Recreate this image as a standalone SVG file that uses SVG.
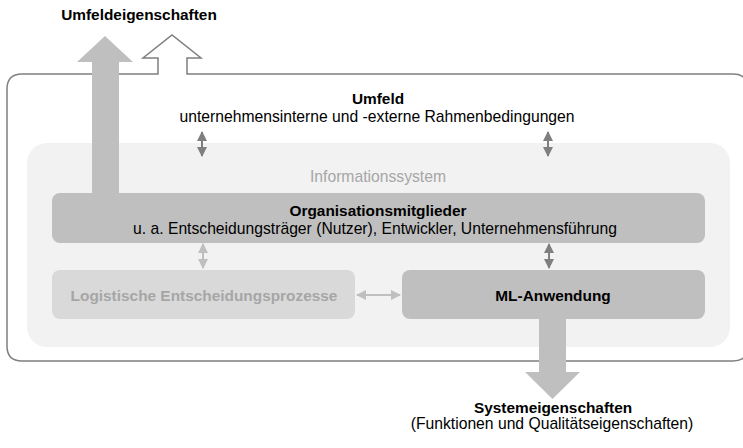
<svg xmlns="http://www.w3.org/2000/svg" width="743" height="448" viewBox="0 0 743 448">
<style>
text{font-family:"Liberation Sans",Arial,sans-serif;font-size:15.7px;text-anchor:middle;fill:#000}
.b{font-weight:bold;font-size:15.4px}
.g{fill:#a6a6a6}
.box{fill:#bfbfbf}
.dk{stroke:#7f7f7f;stroke-width:2;fill:none}
.lt{stroke:#bfbfbf;stroke-width:2;fill:none}
</style>
<defs>
<marker id="hd" viewBox="0 0 10 10" refX="9" refY="5" markerWidth="5" markerHeight="5" orient="auto-start-reverse"><path d="M0,0 L10,5 L0,10 z" fill="#7f7f7f"/></marker>
<marker id="hl" viewBox="0 0 10 10" refX="9" refY="5" markerWidth="5" markerHeight="5" orient="auto-start-reverse"><path d="M0,0 L10,5 L0,10 z" fill="#bfbfbf"/></marker>
</defs>
<g id="umfeld">
<path d="M187,74 L187,58 L201,58 L172,35 L143,58 L158,58 L158,74 L22,74 Q7,74 7,89 L7,346 Q7,361 22,361 L733,361 Q748,361 748,346 L748,89 Q748,74 733,74 Z" fill="#fff" stroke="#7f7f7f" stroke-width="1.5"/>
<text class="b" x="378" y="104">Umfeld</text>
<text x="377" y="122">unternehmensinterne und -externe Rahmenbedingungen</text>
</g>
<g id="informationssystem">
<rect x="27" y="143" width="703" height="204" rx="20" fill="#f2f2f2"/>
<text class="g" x="378" y="182">Informationssystem</text>
</g>
<g id="arrow-umfeldeigenschaften">
<path d="M92,200 L92,62 L77,62 L105,36 L133,62 L119,62 L119,200 Z" fill="#bfbfbf"/>
<text class="b" x="139" y="20">Umfeldeigenschaften</text>
</g>
<g id="organisationsmitglieder">
<rect class="box" x="52" y="193" width="653" height="50" rx="8"/>
<text class="b" x="378" y="216">Organisationsmitglieder</text>
<text x="375" y="234">u. a. Entscheidungsträger (Nutzer), Entwickler, Unternehmensführung</text>
</g>
<g id="logistik">
<rect x="52" y="270" width="303" height="49" rx="8" fill="#d9d9d9"/>
<text class="b g" x="204" y="301">Logistische Entscheidungsprozesse</text>
</g>
<g id="arrow-systemeigenschaften">
<path d="M539,310 L539,372 L525,372 L552.5,399 L580,372 L566,372 L566,310 Z" fill="#bfbfbf"/>
<text class="b" x="553" y="413">Systemeigenschaften</text>
<text x="552" y="429">(Funktionen und Qualitätseigenschaften)</text>
</g>
<g id="ml-anwendung">
<rect class="box" x="402" y="270" width="303" height="49" rx="8"/>
<text class="b" x="553" y="301">ML-Anwendung</text>
</g>
<g id="connectors">
<line class="dk" x1="202" y1="132" x2="202" y2="156" marker-start="url(#hd)" marker-end="url(#hd)"/>
<line class="dk" x1="548" y1="132" x2="548" y2="156" marker-start="url(#hd)" marker-end="url(#hd)"/>
<line class="lt" x1="203" y1="244" x2="203" y2="268" marker-start="url(#hl)" marker-end="url(#hl)"/>
<line class="dk" x1="549" y1="244" x2="549" y2="268" marker-start="url(#hd)" marker-end="url(#hd)"/>
<line class="lt" x1="357" y1="295" x2="400" y2="295" marker-start="url(#hl)" marker-end="url(#hl)"/>
</g>
</svg>
